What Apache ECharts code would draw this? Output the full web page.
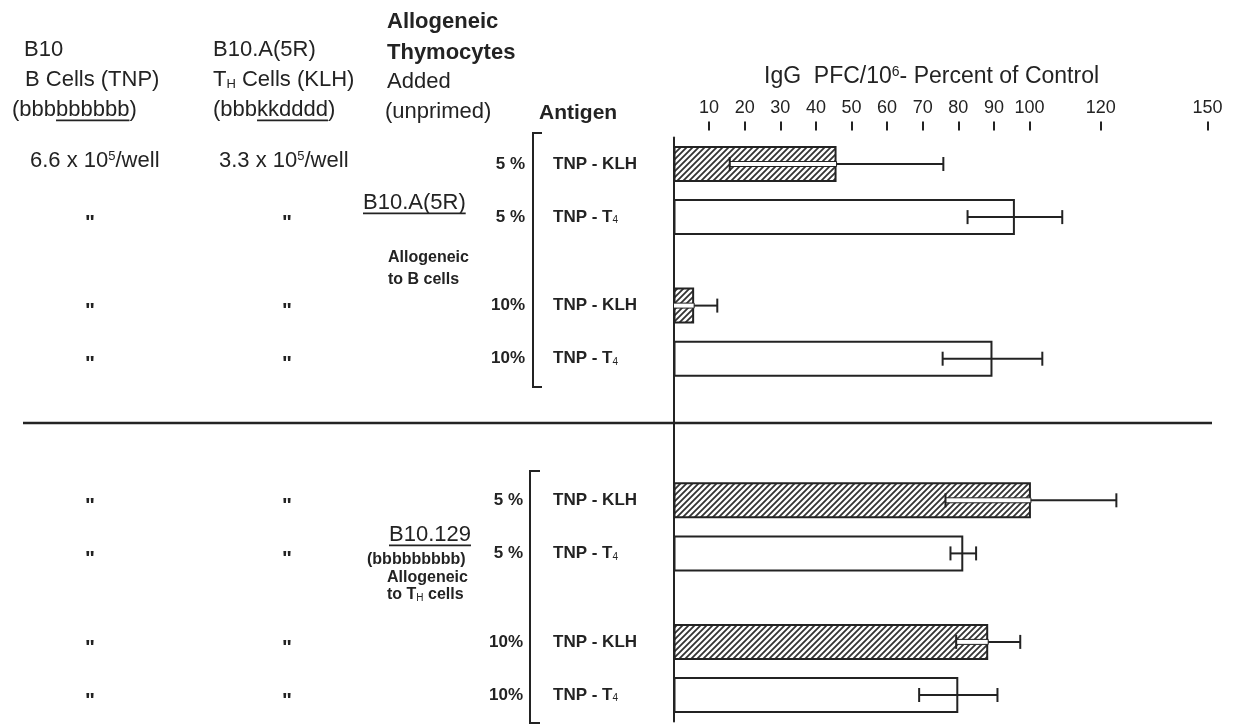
<!DOCTYPE html>
<html>
<head>
<meta charset="utf-8">
<script src="https://cdn.jsdelivr.net/npm/echarts@6/dist/echarts.min.js"></script>
<style>
  html, body { margin: 0; padding: 0; background: #fff; }
  #chart { width: 1240px; height: 725px; }
</style>
</head>
<body>
<div id="chart"></div>
<script>
// ---- data ----
const antigens = ['TNP-KLH', 'TNP-T4', 'TNP-KLH', 'TNP-T4', 'TNP-KLH', 'TNP-T4', 'TNP-KLH', 'TNP-T4'];
const thymocyteDose = ['5 %', '5 %', '10%', '10%', '5 %', '5 %', '10%', '10%'];
const pfcPercent = [45.8, 95.9, 5.8, 89.6, 100.4, 81.4, 88.4, 80.0];
const pfcError = [30, 13.3, 6.5, 14, 24, 3.6, 9, 11];
const axisTicks = [10, 20, 30, 40, 50, 60, 70, 80, 90, 100, 120, 150];

// ---- layout ----
const FONT = 'Liberation Sans, Arial, sans-serif';
const INK = '#232323';
// empty category slots placed before each row (rows are paired, groups are split)
const rowGapSlots = [1, 2, 4, 2, 7, 2, 4, 2];
const rowSlot = [];
let slot = -1;
rowGapSlots.forEach(g => { slot += g + 1; rowSlot.push(slot); });
const slotCount = slot + 2;
const slotNames = Array.from({ length: slotCount }, (_, k) => 'slot' + k);

// diagonal hatching for the TNP-KLH bars
function makeHatch() {
  const c = document.createElement('canvas');
  c.width = 6; c.height = 6;
  const g = c.getContext('2d');
  g.fillStyle = '#fff';
  g.fillRect(0, 0, 6, 6);
  g.strokeStyle = '#333';
  g.lineWidth = 1.8;
  g.beginPath();
  g.moveTo(0, 6); g.lineTo(6, 0);
  g.moveTo(-3, 3); g.lineTo(3, -3);
  g.moveTo(3, 9); g.lineTo(9, 3);
  g.stroke();
  return c;
}
const hatch = { image: makeHatch(), repeat: 'repeat' };
const isHatched = i => antigens[i] === 'TNP-KLH';

const barData = slotNames.map(() => '-');
const errData = [];
pfcPercent.forEach((v, i) => {
  barData[rowSlot[i]] = { value: v, itemStyle: { color: isHatched(i) ? hatch : '#fff' } };
  errData.push([v, Math.max(0, v - pfcError[i]), v + pfcError[i], rowSlot[i], isHatched(i) ? 1 : 0]);
});

function renderError(params, api) {
  const v = api.value(0), lo = api.value(1), hi = api.value(2), c = api.value(3), h = api.value(4);
  const pv = api.coord([v, c]), pl = api.coord([lo, c]), ph = api.coord([hi, c]);
  const y = pv[1], cap = 7;
  const st = { stroke: INK, lineWidth: 2 };
  const kids = [];
  if (h) {
    kids.push({ type: 'rect', shape: { x: pl[0], y: y - 2.5, width: pv[0] - pl[0], height: 5 },
      style: { fill: '#fff', stroke: INK, lineWidth: 1 } });
    kids.push({ type: 'line', shape: { x1: pv[0], y1: y, x2: ph[0], y2: y }, style: st });
  } else {
    kids.push({ type: 'line', shape: { x1: pl[0], y1: y, x2: ph[0], y2: y }, style: st });
  }
  if (lo > 0) kids.push({ type: 'line', shape: { x1: pl[0], y1: y - cap, x2: pl[0], y2: y + cap }, style: st });
  kids.push({ type: 'line', shape: { x1: ph[0], y1: y - cap, x2: ph[0], y2: y + cap }, style: st });
  return { type: 'group', children: kids };
}

const chart = echarts.init(document.getElementById('chart'));
chart.setOption({
  animation: false,
  backgroundColor: '#fff',
  grid: { left: 673.5, right: 32.5, top: 137.45, height: 17.7 * slotCount, containLabel: false },
  xAxis: {
    type: 'value', position: 'top', min: 0, max: 150, offset: 7,
    axisLine: { show: false },
    splitLine: { show: false },
    axisTick: { show: true, customValues: axisTicks, length: 9, lineStyle: { color: INK, width: 2 } },
    axisLabel: { customValues: axisTicks, margin: 13, fontSize: 18, fontFamily: FONT, color: INK }
  },
  yAxis: {
    type: 'category', data: slotNames, inverse: true,
    axisLine: { show: true, lineStyle: { color: INK, width: 2 } },
    axisTick: { show: false }, axisLabel: { show: false }, splitLine: { show: false }
  },
  series: [
    { type: 'bar', data: barData, barWidth: 36, silent: true,
      itemStyle: { borderColor: INK, borderWidth: 2 } },
    { type: 'custom', data: errData, encode: { x: [0, 1, 2], y: 3 }, renderItem: renderError, silent: true, z: 5 }
  ]
});

// ---- text and decorations ----
const mctx = document.createElement('canvas').getContext('2d');
function textWidth(str, size, weight) {
  mctx.font = (weight || 'normal') + ' ' + size + 'px ' + FONT;
  return mctx.measureText(str).width;
}
const rich = size => ({
  sup: { fontSize: Math.round(size * 0.6), fontFamily: FONT, fill: INK, verticalAlign: 'top' },
  sub: { fontSize: Math.round(size * 0.6), fontFamily: FONT, fill: INK, verticalAlign: 'bottom' }
});
function T(x, y, text, o) {
  o = o || {};
  const size = o.fontSize || 22;
  return { type: 'text', x, y, silent: true,
    style: Object.assign({ text, fill: INK, fontFamily: FONT, fontSize: size, fontWeight: 'normal',
      align: 'left', verticalAlign: 'middle', rich: rich(size) }, o) };
}
function L(x1, y1, x2, y2, w) {
  return { type: 'line', silent: true, shape: { x1, y1, x2, y2 }, style: { stroke: INK, lineWidth: w || 1.6 } };
}
function underlined(x, y, pre, mid, post, size, weight) {
  const x0 = x + textWidth(pre, size, weight);
  const x1 = x0 + textWidth(mid, size, weight);
  return [T(x, y, pre + mid + post, { fontSize: size, fontWeight: weight || 'normal' }),
          L(x0, y + size * 0.47, x1, y + size * 0.47, 1.6)];
}

const rowY = rowSlot.map(s => chart.convertToPixel({ gridIndex: 0 }, [0, s])[1]);
const antigenText = a => a === 'TNP-T4' ? 'TNP - T{sub|4}' : 'TNP - KLH';

const g = [];
// column headers
g.push(T(24, 50, 'B10'));
g.push(T(25, 80, 'B Cells (TNP)'));
g.push(...underlined(12, 110, '(bbb', 'bbbbbb', ')', 22));
g.push(T(213, 50, 'B10.A(5R)'));
g.push(T(213, 80, 'T{sub|H} Cells (KLH)'));
g.push(...underlined(213, 110, '(bbb', 'kkdddd', ')', 22));
g.push(T(387, 22, 'Allogeneic', { fontWeight: 'bold' }));
g.push(T(387, 53, 'Thymocytes', { fontWeight: 'bold' }));
g.push(T(387, 82, 'Added'));
g.push(T(385, 112, '(unprimed)'));
g.push(T(539, 113, 'Antigen', { fontWeight: 'bold', fontSize: 21 }));
g.push(T(764, 77, 'IgG  PFC/10{sup|6}- Percent of Control', { fontSize: 23 }));

// cell counts on the first row, ditto marks below
g.push(T(30, rowY[0] - 3, '6.6 x 10{sup|5}/well'));
g.push(T(219, rowY[0] - 3, '3.3 x 10{sup|5}/well'));
for (let i = 1; i < rowY.length; i++) {
  g.push(T(90, rowY[i] + 6, '"', { fontSize: 21, fontWeight: 'bold', align: 'center' }));
  g.push(T(287, rowY[i] + 6, '"', { fontSize: 21, fontWeight: 'bold', align: 'center' }));
}

// dose and antigen labels
rowY.forEach((y, i) => {
  g.push(T(i < 4 ? 525 : 523, y, thymocyteDose[i], { fontSize: 17, fontWeight: 'bold', align: 'right' }));
  g.push(T(553, y, antigenText(antigens[i]), { fontSize: 17, fontWeight: 'bold' }));
});

// donor strain groups
g.push(...underlined(363, 203, '', 'B10.A(5R)', '', 22));
g.push(T(388, 258, 'Allogeneic', { fontSize: 16, fontWeight: 'bold' }));
g.push(T(388, 280, 'to B cells', { fontSize: 16, fontWeight: 'bold' }));
g.push(...underlined(389, 535, '', 'B10.129', '', 22));
g.push(T(367, 560, '(bbbbbbbbb)', { fontSize: 16, fontWeight: 'bold' }));
g.push(T(387, 578, 'Allogeneic', { fontSize: 16, fontWeight: 'bold' }));
g.push(T(387, 595, 'to T{sub|H} cells', { fontSize: 16, fontWeight: 'bold' }));

// brackets and the group divider
g.push({ type: 'polyline', silent: true, shape: { points: [[542, 133], [533, 133], [533, 387], [542, 387]] },
  style: { stroke: INK, lineWidth: 2, fill: null } });
g.push({ type: 'polyline', silent: true, shape: { points: [[540, 471], [530, 471], [530, 723], [540, 723]] },
  style: { stroke: INK, lineWidth: 2, fill: null } });
g.push(L(23, 423, 1212, 423, 2.5));

chart.setOption({ graphic: g });
</script>
</body>
</html>
